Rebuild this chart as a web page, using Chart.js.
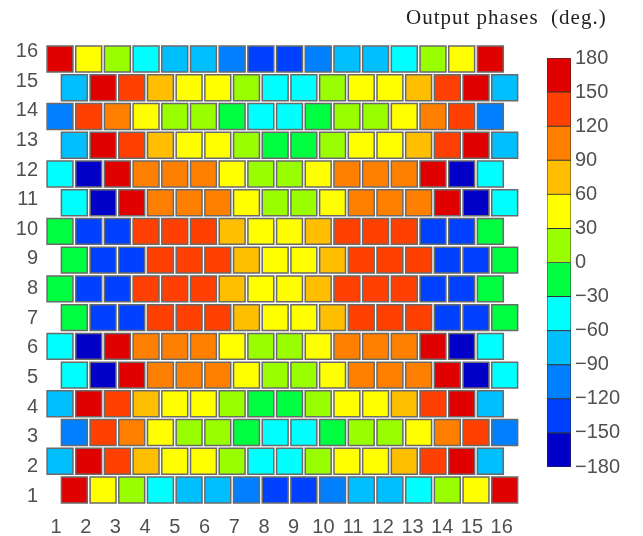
<!DOCTYPE html>
<html>
<head>
<meta charset="utf-8">
<script src="https://cdn.jsdelivr.net/npm/chart.js@4/dist/chart.umd.min.js"></script>
<style>
body { margin: 0; background: #fff; }
#wrap { position: relative; width: 643px; height: 536px; overflow: hidden; }
#grid { position: absolute; left: 0; top: 0; }
#bar { position: absolute; left: 540px; top: 40px; }
#ttl { position: absolute; left: 406px; top: 5px; font-family: "Liberation Serif", serif;
       font-size: 21px; letter-spacing: 1px; color: #222; white-space: pre; }
</style>
</head>
<body>
<div id="wrap">
  <canvas id="grid" width="643" height="536"></canvas>
  <canvas id="bar" width="103" height="450"></canvas>
  <div id="ttl">Output phases  (deg.)</div>
</div>
<script>
// element columns and row numbers
var cols = [1, 2, 3, 4, 5, 6, 7, 8, 9, 10, 11, 12, 13, 14, 15, 16];
var rowNums = [1, 2, 3, 4, 5, 6, 7, 8, 9, 10, 11, 12, 13, 14, 15, 16];

// output phase of each element (deg.), one array per row
var row1  = [165, 45, 15, -45, -75, -75, -105, -135, -135, -105, -75, -75, -45, 15, 45, 165];
var row2  = [-75, 165, 135, 75, 45, 45, 15, -45, -45, 15, 45, 45, 75, 135, 165, -75];
var row3  = [-105, 135, 105, 45, 15, 15, -15, -45, -45, -15, 15, 15, 45, 105, 135, -105];
var row4  = [-75, 165, 135, 75, 45, 45, 15, -15, -15, 15, 45, 45, 75, 135, 165, -75];
var row5  = [-45, -165, 165, 105, 105, 105, 45, 15, 15, 45, 105, 105, 105, 165, -165, -45];
var row6  = [-45, -165, 165, 105, 105, 105, 45, 15, 15, 45, 105, 105, 105, 165, -165, -45];
var row7  = [-15, -135, -135, 135, 135, 135, 75, 45, 45, 75, 135, 135, 135, -135, -135, -15];
var row8  = [-15, -135, -135, 135, 135, 135, 75, 45, 45, 75, 135, 135, 135, -135, -135, -15];
var row9  = [-15, -135, -135, 135, 135, 135, 75, 45, 45, 75, 135, 135, 135, -135, -135, -15];
var row10 = [-15, -135, -135, 135, 135, 135, 75, 45, 45, 75, 135, 135, 135, -135, -135, -15];
var row11 = [-45, -165, 165, 105, 105, 105, 45, 15, 15, 45, 105, 105, 105, 165, -165, -45];
var row12 = [-45, -165, 165, 105, 105, 105, 45, 15, 15, 45, 105, 105, 105, 165, -165, -45];
var row13 = [-75, 165, 135, 75, 45, 45, 15, -15, -15, 15, 45, 45, 75, 135, 165, -75];
var row14 = [-105, 135, 105, 45, 15, 15, -15, -45, -45, -15, 15, 15, 45, 105, 135, -105];
var row15 = [-75, 165, 135, 75, 45, 45, 15, -45, -45, 15, 45, 45, 75, 135, 165, -75];
var row16 = [165, 45, 15, -45, -75, -75, -105, -135, -135, -105, -75, -75, -45, 15, 45, 165];

// colour bar: 30 degree bands
var phaseEdges = [-180, -150, -120, -90, -60, -30, 0, 30, 60, 90, 120, 150, 180];
var phaseColors = ['#0000c8', '#0040ff', '#0080ff', '#00bfff', '#00ffff', '#00ff40',
                   '#99ff00', '#ffff00', '#ffbf00', '#ff8000', '#ff4000', '#e00000'];

var rows = [row1, row2, row3, row4, row5, row6, row7, row8,
            row9, row10, row11, row12, row13, row14, row15, row16];

function phaseColor(v) {
  for (var k = 0; k < phaseColors.length; k++) {
    if (v < phaseEdges[k + 1]) return phaseColors[k];
  }
  return phaseColors[phaseColors.length - 1];
}

var tickFont = { family: '"Liberation Sans", Arial, sans-serif', size: 20 };
var tickColor = '#505050';

// odd rows sit half an element to the right
var datasets = rows.map(function (vals, r) {
  var y = rowNums[r];
  var shift = (y % 2 === 1) ? 0.5 : 0;
  return {
    data: vals.map(function (v, i) { return { x: cols[i] + shift, y: y }; }),
    backgroundColor: vals.map(phaseColor),
    borderColor: '#6a6a6a',
    borderWidth: 1.5,
    pointStyle: 'rect',
    pointRadius: 18.3,
    pointHoverRadius: 18.3,
    xAxisID: 'x',
    yAxisID: 'y',
    clip: false
  };
});

new Chart(document.getElementById('grid'), {
  type: 'scatter',
  data: { datasets: datasets },
  options: {
    responsive: false,
    animation: false,
    layout: { padding: { left: 0, right: 121, top: 42, bottom: 0 } },
    plugins: { legend: { display: false }, tooltip: { enabled: false } },
    scales: {
      x: { type: 'linear', min: 0.4423, max: 17.103, display: false },
      y: { type: 'linear', min: 0.408, max: 16.593, display: false },
      xt: {
        type: 'linear', position: 'bottom', min: 0.596, max: 16.685,
        grid: { display: false, drawTicks: false }, border: { display: false },
        ticks: { font: tickFont, color: tickColor, padding: 8, maxRotation: 0 },
        afterBuildTicks: function (s) { s.ticks = cols.map(function (v) { return { value: v }; }); },
        afterFit: function (s) { s.height = 29; }
      },
      yt: {
        type: 'linear', position: 'left', min: 0.629, max: 16.322,
        grid: { display: false, drawTicks: false }, border: { display: false },
        ticks: { font: tickFont, color: tickColor, padding: 6 },
        afterBuildTicks: function (s) { s.ticks = rowNums.map(function (v) { return { value: v }; }); },
        afterFit: function (s) { s.width = 44; }
      }
    }
  }
});

new Chart(document.getElementById('bar'), {
  type: 'bar',
  data: {
    labels: [''],
    datasets: phaseColors.map(function (c, k) {
      return {
        data: [[phaseEdges[k], phaseEdges[k + 1]]],
        backgroundColor: c,
        borderColor: '#333',
        borderWidth: 0.8,
        borderSkipped: false,
        grouped: false,
        barPercentage: 1,
        categoryPercentage: 1
      };
    })
  },
  options: {
    responsive: false,
    animation: false,
    layout: { padding: { left: 7, top: 18, bottom: 23, right: 0 } },
    plugins: { legend: { display: false }, tooltip: { enabled: false } },
    scales: {
      x: { display: false },
      y: {
        position: 'right', min: -180, max: 180,
        grid: { display: false, drawTicks: false }, border: { display: false },
        ticks: {
          font: tickFont, color: tickColor, padding: 4,
          callback: function (v) { return v < 0 ? '\u2212' + (-v) : String(v); }
        },
        afterBuildTicks: function (s) { s.ticks = phaseEdges.map(function (v) { return { value: v }; }); },
        afterFit: function (s) { s.width = 72; }
      }
    }
  }
});
</script>
</body>
</html>
